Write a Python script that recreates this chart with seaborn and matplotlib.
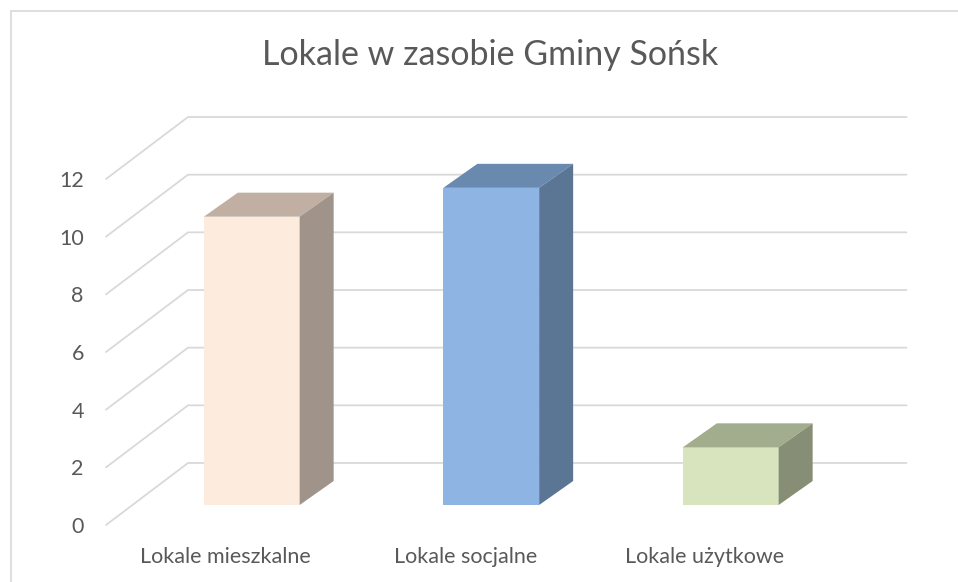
import numpy as np
import pandas as pd
import matplotlib
matplotlib.use('Agg')
import matplotlib.pyplot as plt
import matplotlib.transforms as mtransforms
from matplotlib.patches import Polygon
from matplotlib.lines import Line2D
import seaborn as sns

# data
categories = ['Lokale mieszkalne', 'Lokale socjalne', 'Lokale użytkowe']
values = [10, 11, 2]
front_colors = ['#FDEBDD', '#8DB4E2', '#D7E4BD']
top_colors = ['#C0AFA2', '#6A89AE', '#A2AD8E']
side_colors = ['#A09389', '#5B7594', '#868E76']
yticks = [0, 2, 4, 6, 8, 10, 12]
title = 'Lokale w zasobie Gminy Sońsk'

sns.set_theme(style='white')
plt.rcParams['font.family'] = ['Lato', 'DejaVu Sans']
txt_color = '#595959'
grid_color = '#D9D9D9'

W, H, DPI = 958, 582, 100
fig = plt.figure(figsize=(W / DPI, H / DPI), dpi=DPI)
ax = fig.add_axes([132 / W, (H - 505) / H, 718.5 / W, 346 / H])

df = pd.DataFrame({'cat': categories, 'val': values})
sns.barplot(data=df, x='cat', y='val', hue='cat', palette=front_colors,
            width=0.4, saturation=1, linewidth=0, legend=False, ax=ax, zorder=3)
ax.set_xlim(-0.5, 2.5)
ax.set_ylim(0, 12)
ax.set_xlabel('')
ax.set_ylabel('')
for s in ax.spines.values():
    s.set_visible(False)
ax.patch.set_alpha(0)


def px(dx, dy):
    # offset in pixels (display coords, y up)
    return mtransforms.ScaledTranslation(dx / DPI, dy / DPI, fig.dpi_scale_trans)


front_off = px(-26, -20)

# floor + back-wall gridlines
for v in yticks:
    pts = ax.transData.transform([(-0.5, v), (-0.5, v), (2.5, v)])
    pts[0] += [-26, -20]
    pts[1] += [56, 42]
    pts[2] += [56, 42]
    ax.add_line(Line2D(pts[:, 0], pts[:, 1], transform=None, color=grid_color,
                       lw=1.3, zorder=1, clip_on=False))

# 3D faces of bars
for p, v, tc, sc in zip(ax.patches, values, top_colors, side_colors):
    x0 = p.get_x()
    x1 = x0 + p.get_width()
    a = ax.transData.transform([(x0, v), (x1, v), (x1, 0)])
    top = [a[0], a[1], a[1] + [34, 24], a[0] + [34, 24]]
    side = [a[1], a[2], a[2] + [34, 24], a[1] + [34, 24]]
    ax.add_patch(Polygon(top, closed=True, transform=None, facecolor=tc,
                         edgecolor='none', zorder=4, clip_on=False))
    ax.add_patch(Polygon(side, closed=True, transform=None, facecolor=sc,
                         edgecolor='none', zorder=4, clip_on=False))

# ticks
ax.set_yticks(yticks)
ax.set_yticklabels([str(t) for t in yticks])
ax.tick_params(axis='y', length=0, pad=16, labelsize=15.5, labelcolor=txt_color)
ax.tick_params(axis='x', length=0, pad=16, labelsize=15.5, labelcolor=txt_color)
for lab in ax.get_yticklabels() + ax.get_xticklabels():
    lab.set_transform(lab.get_transform() + front_off)

fig.text(490 / W, 1 - 55 / H, title, ha='center', va='center',
         fontsize=24.5, color=txt_color)

# chart frame (left and top)
fig.add_artist(Line2D([10.5 / W, 10.5 / W], [0, 1 - 11 / H], transform=fig.transFigure,
                      color=grid_color, lw=1.2))
fig.add_artist(Line2D([10.5 / W, 1], [1 - 11 / H, 1 - 11 / H], transform=fig.transFigure,
                      color=grid_color, lw=1.2))

fig.savefig('out.png', dpi=DPI)
